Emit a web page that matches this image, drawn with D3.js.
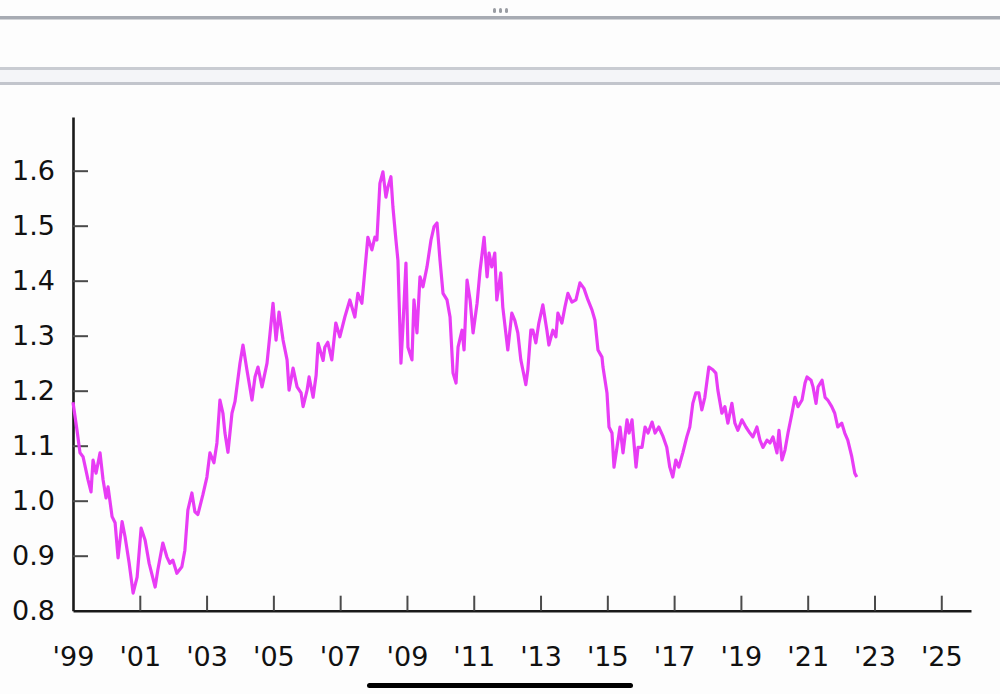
<!DOCTYPE html>
<html>
<head>
<meta charset="utf-8">
<script src="https://cdn.jsdelivr.net/npm/d3@7"></script>
<style>
	body { margin: 0; background: #fdfdfd; }
	svg { display: block; }
	.axis text { font-family: "DejaVu Sans", sans-serif; font-size: 27px; fill: #111; }
</style>
</head>
<body>
<div id="chart"></div>
<script>

// EUR/USD, decimal year + rate
var years = [1999.00,1999.12,1999.21,1999.30,1999.45,1999.54,1999.60,1999.69,1999.81,1999.90,1999.99,
	2000.05,2000.17,2000.26,2000.35,2000.47,2000.56,2000.68,2000.80,2000.92,
	2001.04,2001.16,2001.28,2001.46,2001.54,2001.69,2001.81,2001.90,2001.99,
	2002.11,2002.26,2002.35,2002.44,2002.56,2002.65,2002.74,2002.89,
	2003.01,2003.10,2003.22,2003.31,2003.40,2003.49,2003.55,2003.64,2003.76,2003.85,
	2004.00,2004.09,2004.21,2004.36,2004.45,2004.54,2004.66,2004.81,2004.90,2004.99,
	2005.08,2005.17,2005.29,2005.41,2005.47,2005.59,2005.71,2005.83,2005.89,
	2006.01,2006.07,2006.19,2006.28,2006.34,2006.49,2006.54,2006.63,2006.75,2006.87,2006.99,
	2007.14,2007.29,2007.44,2007.53,2007.65,2007.74,2007.83,2007.95,
	2008.04,2008.10,2008.19,2008.28,2008.37,2008.43,2008.52,2008.58,2008.67,2008.73,2008.82,2008.88,2008.97,
	2009.03,2009.15,2009.21,2009.30,2009.39,2009.48,2009.60,2009.72,2009.81,2009.90,2009.99,
	2010.08,2010.20,2010.29,2010.38,2010.47,2010.53,2010.65,2010.71,2010.80,2010.89,2010.98,
	2011.10,2011.19,2011.31,2011.40,2011.46,2011.54,2011.63,2011.69,2011.81,2011.87,2011.96,
	2012.02,2012.14,2012.23,2012.32,2012.41,2012.47,2012.56,2012.62,2012.71,2012.77,2012.86,2012.95,
	2013.07,2013.19,2013.25,2013.37,2013.46,2013.52,2013.64,2013.73,2013.82,2013.94,
	2014.06,2014.18,2014.30,2014.42,2014.54,2014.63,2014.72,2014.84,2014.87,2014.99,
	2015.05,2015.14,2015.20,2015.29,2015.38,2015.47,2015.59,2015.65,2015.74,2015.86,2015.92,
	2016.04,2016.13,2016.22,2016.34,2016.43,2016.54,2016.66,2016.78,2016.87,2016.96,
	2017.05,2017.14,2017.26,2017.38,2017.47,2017.56,2017.65,2017.74,2017.83,2017.92,
	2018.04,2018.16,2018.25,2018.31,2018.43,2018.52,2018.61,2018.73,2018.82,2018.91,
	2019.03,2019.15,2019.27,2019.36,2019.48,2019.57,2019.66,2019.78,2019.87,2019.96,
	2020.08,2020.14,2020.23,2020.32,2020.41,2020.53,2020.62,2020.71,2020.83,2020.92,2020.98,
	2021.10,2021.16,2021.25,2021.31,2021.43,2021.52,2021.60,2021.72,2021.81,2021.90,
	2022.02,2022.11,2022.20,2022.32,2022.41,2022.47];

var rates = [1.179,1.128,1.087,1.080,1.038,1.016,1.074,1.050,1.087,1.038,1.005,
	1.025,0.971,0.960,0.896,0.962,0.934,0.887,0.832,0.861,
	0.950,0.928,0.886,0.843,0.874,0.923,0.898,0.886,0.892,
	0.868,0.880,0.910,0.983,1.014,0.980,0.975,1.011,
	1.043,1.087,1.069,1.105,1.183,1.159,1.123,1.088,1.159,1.180,
	1.250,1.283,1.237,1.183,1.225,1.243,1.207,1.250,1.304,1.359,
	1.292,1.343,1.292,1.256,1.201,1.241,1.207,1.196,1.171,
	1.201,1.225,1.188,1.228,1.286,1.255,1.279,1.288,1.256,1.323,1.298,
	1.334,1.365,1.334,1.377,1.359,1.419,1.479,1.456,
	1.479,1.474,1.577,1.598,1.552,1.570,1.589,1.534,1.474,1.437,1.250,1.316,1.432,
	1.279,1.256,1.365,1.305,1.407,1.389,1.425,1.474,1.498,1.505,1.437,
	1.377,1.365,1.334,1.232,1.214,1.279,1.310,1.274,1.401,1.365,1.305,
	1.359,1.419,1.479,1.407,1.450,1.425,1.450,1.365,1.414,1.352,1.305,
	1.274,1.341,1.328,1.305,1.256,1.238,1.211,1.238,1.310,1.310,1.287,1.323,
	1.356,1.310,1.283,1.310,1.298,1.341,1.323,1.352,1.377,1.361,
	1.365,1.396,1.386,1.365,1.347,1.328,1.274,1.261,1.243,1.196,
	1.134,1.123,1.061,1.097,1.134,1.087,1.147,1.123,1.147,1.061,1.097,
	1.097,1.134,1.123,1.143,1.123,1.134,1.118,1.097,1.061,1.043,
	1.074,1.061,1.087,1.116,1.134,1.177,1.196,1.196,1.165,1.188,
	1.243,1.238,1.232,1.201,1.159,1.171,1.141,1.177,1.141,1.128,
	1.147,1.134,1.123,1.116,1.134,1.110,1.097,1.110,1.105,1.116,
	1.087,1.128,1.074,1.092,1.123,1.159,1.188,1.171,1.183,1.214,1.225,
	1.219,1.207,1.177,1.207,1.219,1.188,1.183,1.171,1.159,1.134,
	1.141,1.123,1.110,1.080,1.050,1.043];

var yTicks = [0.8, 0.9, 1.0, 1.1, 1.2, 1.3, 1.4, 1.5, 1.6];
var xTicks = [1999,2001,2003,2005,2007,2009,2011,2013,2015,2017,2019,2021,2023,2025];
var xTickLabels = ["'99","'01","'03","'05","'07","'09","'11","'13","'15","'17","'19","'21","'23","'25"];

var data = years.map(function(y, i){ return {year: y, rate: rates[i]}; });

var width = 1000, height = 694;

var svg = d3.select("#chart").append("svg")
	.attr("width", width)
	.attr("height", height);

svg.append("rect")
	.attr("width", width).attr("height", height)
	.style("fill", "#fdfdfd");

// phone chrome: top bar, tab strip, home indicator
svg.selectAll(".dot").data([-6, 0, 6]).enter()
	.append("rect")
	.attr("x", function(d){ return 499 + d; })
	.attr("y", 8).attr("width", 3).attr("height", 5).attr("rx", 1.5)
	.style("fill", "#9a9da3");
svg.append("rect").attr("x", 0).attr("y", 16).attr("width", width).attr("height", 3.5).style("fill", "#a7abb3");
svg.append("rect").attr("x", 0).attr("y", 67).attr("width", width).attr("height", 17).style("fill", "#f4f5f8");
svg.append("rect").attr("x", 0).attr("y", 67).attr("width", width).attr("height", 3).style("fill", "#c9ccd2");
svg.append("rect").attr("x", 0).attr("y", 82).attr("width", width).attr("height", 3).style("fill", "#c2c5cc");
svg.append("rect").attr("x", 367).attr("y", 683).attr("width", 266).attr("height", 5).attr("rx", 2.5)
	.style("fill", "#000");

var xscale = d3.scaleLinear().domain([1999, 2025.89]).range([73, 971]);
var yscale = d3.scaleLinear().domain([0.8, 1.6976]).range([610.7, 117]);

var xAxis = d3.axisBottom(xscale)
	.tickValues(xTicks)
	.tickFormat(function(d, i){ return xTickLabels[i]; })
	.tickSizeInner(-15)
	.tickSizeOuter(0)
	.tickPadding(36);

var yAxis = d3.axisLeft(yscale)
	.tickValues(yTicks)
	.tickFormat(d3.format(".1f"))
	.tickSizeInner(-15)
	.tickSizeOuter(0)
	.tickPadding(18);

var gx = svg.append("g")
	.attr("class", "axis x_axis")
	.attr("transform", "translate(0,610.7)")
	.call(xAxis);

var gy = svg.append("g")
	.attr("class", "axis y_axis")
	.attr("transform", "translate(73,0)")
	.call(yAxis);

// 0.8 sits on the x axis, no tick mark there
gy.selectAll(".tick line").filter(function(d){ return d == 0.8; }).remove();
gx.selectAll(".tick line").filter(function(d){ return d == 1999; }).remove();

svg.selectAll(".axis .domain").style("stroke", "#1a1a1a").style("stroke-width", 2.6);
svg.selectAll(".axis .tick line").style("stroke", "#4a4a4a").style("stroke-width", 2);
svg.selectAll(".axis text").attr("fill", "#111");

var line = d3.line()
	.x(function(d){ return xscale(d.year); })
	.y(function(d){ return yscale(d.rate); });

svg.append("path")
	.datum(data)
	.attr("d", line)
	.style("fill", "none")
	.style("stroke", "#e83cf5")
	.style("stroke-width", 3.2)
	.style("stroke-linejoin", "round");

</script>
</body>
</html>
